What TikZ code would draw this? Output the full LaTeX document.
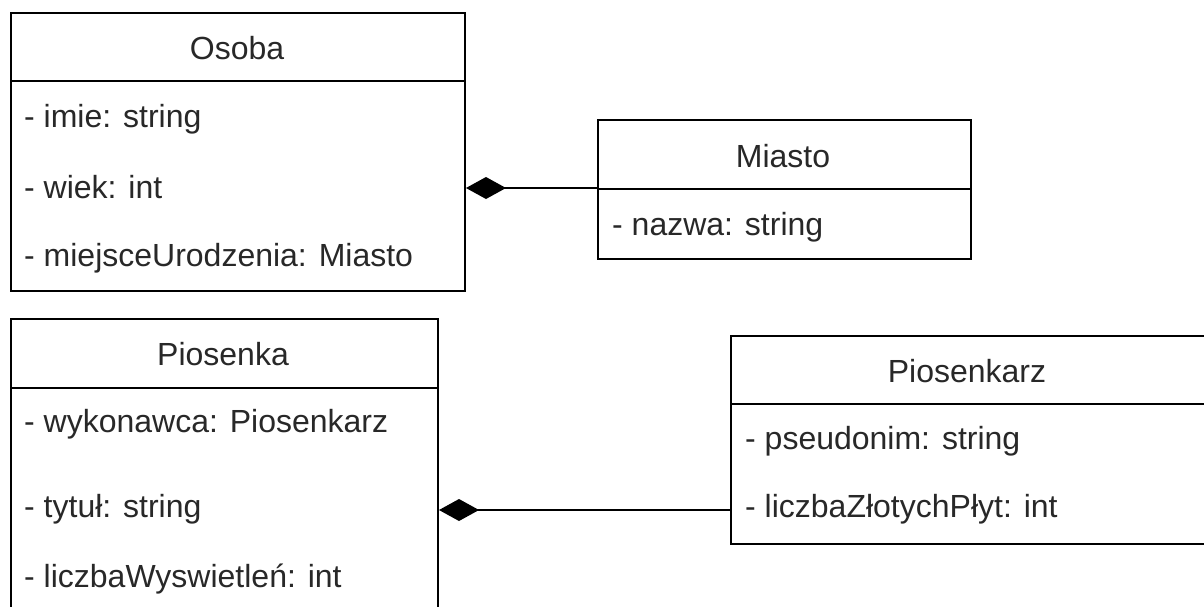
\documentclass[tikz,border=0pt]{standalone}
\usepackage{fontspec}
\setmainfont{Liberation Sans}
\usetikzlibrary{arrows.meta}
\definecolor{txt}{RGB}{40,40,40}
\tikzset{
  classbox/.style={draw=black, line width=2pt, fill=white, rectangle, inner sep=0pt, anchor=north west},
  divider/.style={draw=black, line width=2pt},
  title/.style={font=\fontsize{32}{36}\selectfont, text=txt, inner sep=0pt, anchor=center},
  attr/.style={font=\fontsize{32}{36}\selectfont, text=txt, inner sep=0pt, anchor=west},
  compo/.style={draw=black, line width=2pt, -{Diamond[length=40pt, width=22pt, line width=0pt, fill=black]}}
}
\begin{document}
\begin{tikzpicture}[x=1pt, y=-1pt]
\useasboundingbox (0,0) rectangle (1204,606);
\fill[white] (0,0) rectangle (1204,606);
\clip (0,0) rectangle (1204,606);

% Osoba
\node[classbox, minimum width=454pt, minimum height=278pt] (osoba) at (10,12) {};
\draw[divider] (10,81) -- (464,81);
\node[title] (osobaT) at (237,48) {Osoba};
\node[attr] (imie) at (24,119) {- imie: string};
\node[attr] (wiek) at (24,187) {- wiek: int};
\node[attr] (miejsce) at (24,258) {- miejsceUrodzenia: Miasto};

% Miasto
\node[classbox, minimum width=373pt, minimum height=139pt] (miasto) at (597,119) {};
\draw[divider] (597,189) -- (970,189);
\node[title] (miastoT) at (783,156) {Miasto};
\node[attr] (nazwa) at (612,227) {- nazwa: string};

% Piosenka
\node[classbox, minimum width=427pt, minimum height=320pt] (piosenka) at (10,318) {};
\draw[divider] (10,388) -- (437,388);
\node[title] (piosenkaT) at (223,354) {Piosenka};
\node[attr] (wykonawca) at (24,424) {- wykonawca: Piosenkarz};
\node[attr] (tytul) at (24,509) {- tytuł: string};
\node[attr] (liczbaW) at (24,579) {- liczbaWyswietleń: int};

% Piosenkarz
\node[classbox, minimum width=480pt, minimum height=208pt] (piosenkarz) at (730,335) {};
\draw[divider] (730,404) -- (1210,404);
\node[title] (piosenkarzT) at (967,371) {Piosenkarz};
\node[attr] (pseudonim) at (745,441) {- pseudonim: string};
\node[attr] (liczbaZ) at (745,509) {- liczbaZłotychPłyt: int};

% connectors
\coordinate (osobaE) at ([yshift=-1pt]osoba.east |- wiek);
\coordinate (miastoW) at ([yshift=-1pt]miasto.west |- wiek);
\draw[compo] (miastoW) -- (osobaE);
\coordinate (piosenkaE) at ([yshift=-1pt]piosenka.east |- tytul);
\coordinate (piosenkarzW) at ([yshift=-1pt]piosenkarz.west |- tytul);
\draw[compo] (piosenkarzW) -- (piosenkaE);
\end{tikzpicture}
\end{document}
